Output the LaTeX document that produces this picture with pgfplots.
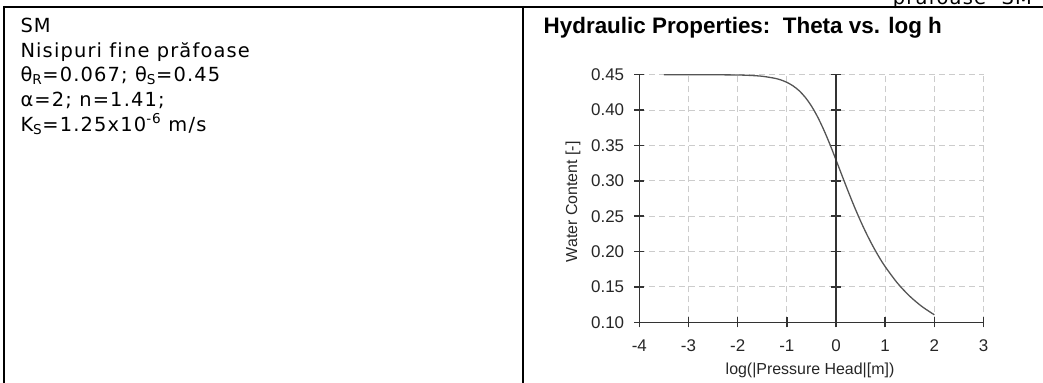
\documentclass[border=0pt]{standalone}
\usepackage{pgfplots}
\pgfplotsset{compat=1.18}
\usepackage{fontspec}
\setmainfont{Liberation Sans}
\newfontfamily\verd[LetterSpace=6,Ligatures=NoCommon]{DejaVu Sans}
\definecolor{axc}{HTML}{333333}
\definecolor{crv}{HTML}{555555}
\definecolor{grd}{HTML}{CCCCCC}
\newcommand{\vt}{\verd\fontsize{19.5}{24.6}\selectfont}
\begin{document}
\begin{tikzpicture}
\useasboundingbox (0,0) rectangle (1043bp,383bp);
\clip (0,0) rectangle (1043bp,383bp);
% table rules
\draw[line width=2bp] (3.3bp,376bp) -- (1043bp,376bp);
\draw[line width=2bp] (4.3bp,377bp) -- (4.3bp,0bp);
\draw[line width=2bp] (522.7bp,377bp) -- (522.7bp,0bp);
\node[anchor=base east, inner sep=0pt, font=\vt] at (1032bp,378.3bp) {prăfoase- SM};
% left cell text
\node[anchor=base west, inner sep=0pt, font=\vt] at (20.3bp,350.3bp) {SM};
\node[anchor=base west, inner sep=0pt, font=\vt] at (20.3bp,325.7bp) {Nisipuri fine prăfoase};
\node[anchor=base west, inner sep=0pt, font=\vt] at (20.3bp,301.1bp) {θ\textsubscript{R}=0.067; θ\textsubscript{S}=0.45};
\node[anchor=base west, inner sep=0pt, font=\vt] at (20.3bp,276.5bp) {α=2; n=1.41;};
\node[anchor=base west, inner sep=0pt, font=\vt] at (20.3bp,251.9bp) {K\textsubscript{S}=1.25x10\textsuperscript{-6} m/s};
% title
\node[anchor=base west, inner sep=0pt, font=\bfseries\fontsize{22.5}{27}\selectfont] at (543.5bp,349.7bp) {Hydraulic Properties:\ \ Theta vs. log h};
\begin{axis}[
  at={(639.3bp,60.7bp)}, anchor=south west,
  scale only axis, width=344.2bp, height=247.6bp,
  xmin=-4, xmax=3, ymin=0.10, ymax=0.45,
  enlargelimits=false,
  xtick={-4,-3,-2,-1,0,1,2,3},
  ytick={0.10,0.15,0.20,0.25,0.30,0.35,0.40,0.45},
  axis lines=left,
  axis line style={-, draw=axc, line width=1.5bp},
  tick align=center, major tick length=10bp,
  tick style={draw=axc, line width=1.5bp},
  grid=major,
  major grid style={draw=grd, dash pattern=on 6bp off 4bp, line width=1bp},
  /pgf/number format/assume math mode=true,
  ticklabel style={font=\fontsize{17}{19}\selectfont, text=black!85},
  yticklabel style={/pgf/number format/fixed, /pgf/number format/fixed zerofill,
    /pgf/number format/precision=2, inner sep=0pt, anchor=east, xshift=-10bp},
  xticklabel style={inner sep=0pt, anchor=north, yshift=-12.5bp},
  xlabel={log(|Pressure Head|[m])},
  ylabel={Water Content [-]},
  label style={font=\fontsize{16}{19}\selectfont, text=black!85},
  xlabel style={at={(axis description cs:0.496,-0.1955)}, anchor=center},
  ylabel style={at={(axis description cs:-0.1926,0.487)}, anchor=center},
]
\addplot[crv, line width=1.3bp, smooth, tension=0.5] coordinates {
  (-3.5,0.4500) (-3.0,0.4500) (-2.5,0.4499) (-2.0,0.4496) (-1.75,0.4490)
  (-1.5,0.4478) (-1.25,0.4450) (-1.125,0.4427) (-1.0,0.4392) (-0.875,0.4343)
  (-0.75,0.4274) (-0.625,0.4180) (-0.5,0.4058) (-0.375,0.3905) (-0.25,0.3723)
  (-0.125,0.3518) (0,0.3297) (0.125,0.3070) (0.25,0.2847) (0.375,0.2632)
  (0.5,0.2431) (0.625,0.2246) (0.75,0.2077) (0.875,0.1924) (1.0,0.1787)
  (1.25,0.1554) (1.5,0.1369) (1.75,0.1222) (2.0,0.1106)
};
\draw[axc, line width=1.5bp] (axis cs:0,0.10) -- (axis cs:0,0.45);
\pgfplotsinvokeforeach{0.15,0.20,0.25,0.30,0.35,0.40,0.45}{
  \draw[axc, line width=1.5bp] ([xshift=-5bp]axis cs:0,#1) -- ([xshift=5bp]axis cs:0,#1);
}
\end{axis}
\end{tikzpicture}
\end{document}
